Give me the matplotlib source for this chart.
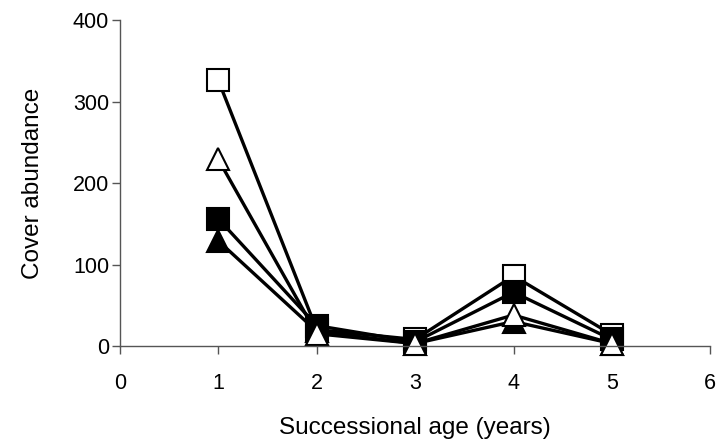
import matplotlib
matplotlib.use("Agg")
import matplotlib.pyplot as plt

plt.rcParams['font.family'] = ['Liberation Sans', 'DejaVu Sans']

ages = [1, 2, 3, 4, 5]
open_square = [326, 20, 8, 86, 14]
filled_square = [156, 25, 5, 66, 8]
filled_triangle = [129, 18, 3, 30, 3]
open_triangle = [229, 15, 3, 38, 3]

x_ticks = [0, 1, 2, 3, 4, 5, 6]
y_ticks = [0, 100, 200, 300, 400]

fig = plt.figure(figsize=(7.27, 4.47), dpi=100)
ax = fig.add_axes([0.165, 0.226, 0.812, 0.729])

series = [
    (open_square, 's', 'white'),
    (filled_square, 's', 'black'),
    (filled_triangle, '^', 'black'),
    (open_triangle, '^', 'white'),
]
for vals, m, fc in series:
    ax.plot(ages, vals, color='black', linewidth=2.4, marker=m, markersize=16,
            markerfacecolor=fc, markeredgecolor='black', markeredgewidth=1.5,
            clip_on=False)

ax.set_xlim(0, 6)
ax.set_ylim(0, 400)
ax.set_xticks(x_ticks)
ax.set_yticks(y_ticks)
for s in ['top', 'right']:
    ax.spines[s].set_visible(False)
for s in ['left', 'bottom']:
    ax.spines[s].set_color('#555555')
    ax.spines[s].set_linewidth(1.0)
ax.tick_params(direction='out', length=5.8, width=1.0, color='#555555',
               labelsize=15.5)
ax.tick_params(axis='x', pad=14)
ax.tick_params(axis='y', pad=2)
ax.set_xlabel('Successional age (years)', fontsize=17.5, labelpad=16)
ax.set_ylabel('Cover abundance', fontsize=17.5, labelpad=21)

fig.savefig('out.png', dpi=100)
